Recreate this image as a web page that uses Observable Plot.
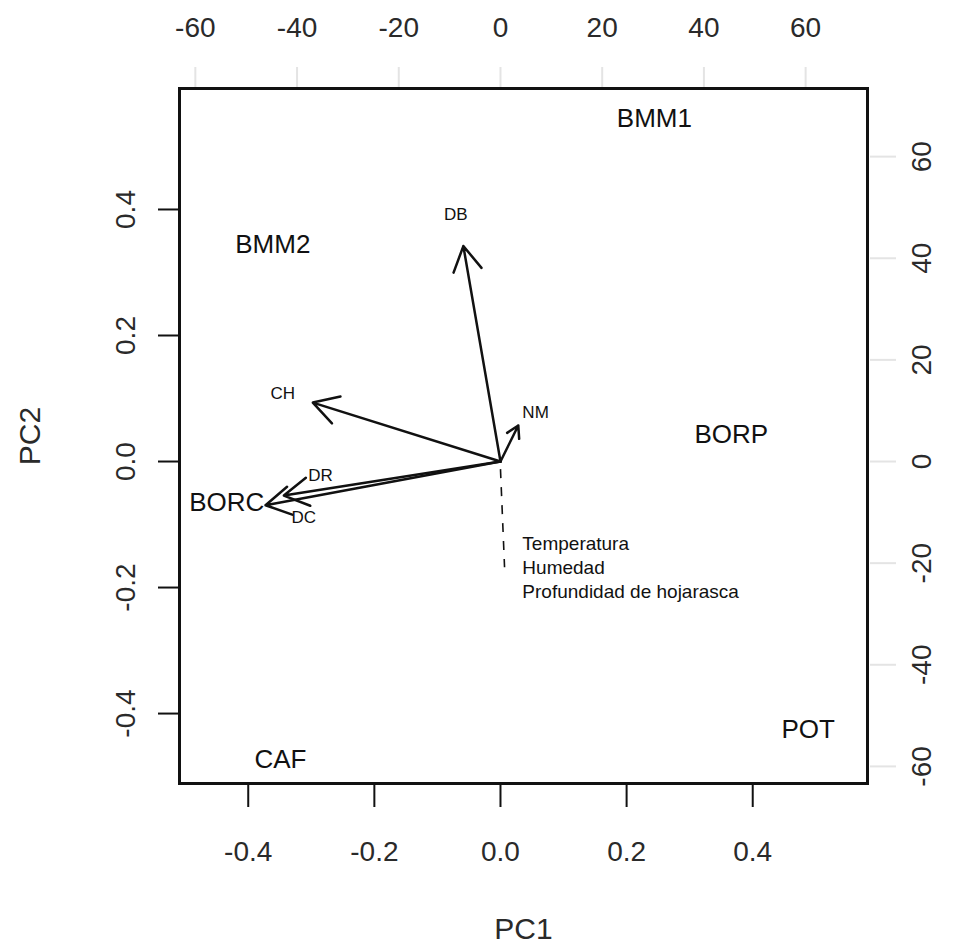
<!DOCTYPE html>
<html><head><meta charset="utf-8">
<script src="https://cdn.jsdelivr.net/npm/d3@7"></script>
<script src="https://cdn.jsdelivr.net/npm/@observablehq/plot@0.6"></script>
<style>body{margin:0;background:#fff} svg{display:block}</style>
</head><body><div id="chart"></div>
<script>
// Site scores (PC1 / PC2, bottom & left axes)
const sites = ["BMM1","BMM2","BORP","BORC","CAF","POT"];
const siteX = [0.244,-0.361,0.366,-0.434,-0.349,0.488];
const siteY = [0.544,0.344,0.043,-0.065,-0.473,-0.425];
// Variable loadings (top & right axes units)
const vars = ["DB","NM","CH","DR","DC"];
const varX = [-7.3,3.5,-36.9,-42.6,-46.2];
const varY = [42.4,7.1,11.6,-6.7,-8.6];
const varLabelX = [-8.8,6.9,-42.8,-35.4,-38.7];
const varLabelY = [48.7,9.6,13.4,-2.8,-11.0];
// Near-zero variables (dashed leader)
const minorVars = ["Temperatura","Humedad","Profundidad de hojarasca"];
const minorLineX = [0, 0.8];
const minorLineY = [-1.5, -20.8];
const minorLabelX = [4.3,4.3,4.3];
const minorLabelY = [-16.3,-21.0,-25.7];
// Ticks
const pcTicks = [-0.4,-0.2,0,0.2,0.4];
const loadTicks = [-60,-40,-20,0,20,40,60];
const ratio = 124; // loadings units per score unit

const siteData = sites.map((s,i)=>({s, x: siteX[i], y: siteY[i]}));
const varData = vars.map((v,i)=>({v, x: varX[i]/ratio, y: varY[i]/ratio, lx: varLabelX[i]/ratio, ly: varLabelY[i]/ratio}));
const minorData = minorVars.map((v,i)=>({v, x: minorLabelX[i]/ratio, y: minorLabelY[i]/ratio}));
const fmt = d => d.toFixed(1);
const font = "Liberation Sans, Arial, sans-serif";
const tickFont = 28;
const labColor = "#2a2a2a";

const chart = Plot.plot({
  width: 953, height: 949,
  marginLeft: 179, marginRight: 86, marginTop: 88, marginBottom: 166,
  style: {fontFamily: font, background: "#fff"},
  x: {domain: [-0.509, 0.582], axis: null},
  y: {domain: [-0.511, 0.592], axis: null},
  marks: [
    // faint secondary ticks
    Plot.axisX({anchor: "top", ticks: loadTicks.map(v=>v/ratio), tickSize: 20, fill: "none", stroke: "#e4e4e4", strokeWidth: 2, label: null, dy: -2}),
    Plot.axisY({anchor: "right", ticks: loadTicks.map(v=>v/ratio), tickSize: 26, fill: "none", stroke: "#e4e4e4", strokeWidth: 2, label: null, dx: 2}),
    // primary ticks
    Plot.axisX({anchor: "bottom", ticks: pcTicks, tickSize: 24, fill: "none", stroke: "#111", strokeWidth: 2, label: null}),
    Plot.axisY({anchor: "left", ticks: pcTicks, tickSize: 21, fill: "none", stroke: "#111", strokeWidth: 2, label: null}),
    // tick labels
    Plot.text(pcTicks, {x: d=>d, text: fmt, frameAnchor: "bottom", dy: 69, lineAnchor: "middle", fontSize: tickFont, fill: labColor}),
    Plot.text(pcTicks, {y: d=>d, text: fmt, frameAnchor: "left", dx: -53, rotate: -90, textAnchor: "middle", lineAnchor: "middle", fontSize: tickFont, fill: labColor}),
    Plot.text(loadTicks, {x: d=>d/ratio, text: d=>String(d), frameAnchor: "top", dy: -60, lineAnchor: "middle", fontSize: tickFont, fill: labColor}),
    Plot.text(loadTicks, {y: d=>d/ratio, text: d=>String(d), frameAnchor: "right", dx: 55, rotate: -90, textAnchor: "middle", lineAnchor: "middle", fontSize: tickFont, fill: labColor}),
    // axis titles
    Plot.text(["PC1"], {text: d=>d, frameAnchor: "bottom", dy: 146, lineAnchor: "middle", fontSize: 30, fill: labColor}),
    Plot.text(["PC2"], {text: d=>d, frameAnchor: "left", dx: -149, rotate: -90, textAnchor: "middle", lineAnchor: "middle", fontSize: 30, fill: labColor}),
    // frame
    Plot.frame({stroke: "#111", strokeWidth: 3}),
    // dashed leader
    Plot.link([0], {x1: minorLineX[0]/ratio, y1: minorLineY[0]/ratio, x2: minorLineX[1]/ratio, y2: minorLineY[1]/ratio, stroke: "#111", strokeWidth: 1.6, strokeDasharray: "9,9"}),
    Plot.text(minorData, {x: "x", y: "y", text: "v", textAnchor: "start", lineAnchor: "middle", fontSize: 19, fill: "#111"}),
    // arrows
    Plot.arrow(varData, {x1: 0, y1: 0, x2: "x", y2: "y", headLength: 17, headAngle: 60, stroke: "#111", strokeWidth: 2.5}),
    Plot.text(varData, {x: "lx", y: "ly", text: "v", lineAnchor: "middle", fontSize: 17, fill: "#111"}),
    // site labels
    Plot.text(siteData, {x: "x", y: "y", text: "s", lineAnchor: "middle", fontSize: 26, fill: "#111"})
  ]
});
document.getElementById("chart").appendChild(chart);
</script>
</body></html>
